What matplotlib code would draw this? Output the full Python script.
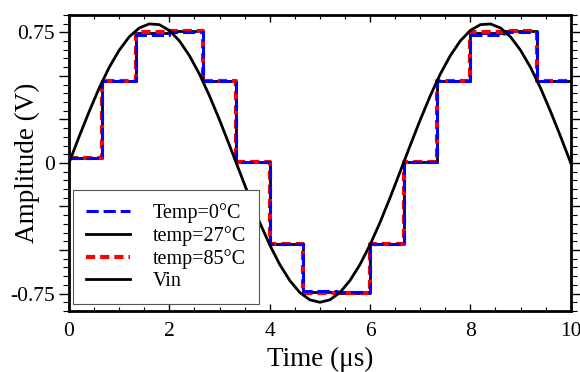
import numpy as np
import matplotlib
matplotlib.use("Agg")
import matplotlib.pyplot as plt
import matplotlib.ticker as ticker

plt.rcParams['font.family'] = ['Liberation Serif', 'DejaVu Serif']
plt.rcParams['mathtext.fontset'] = 'stix'

# Vin every 0.2 us
t_vin = [0.0, 0.2, 0.4, 0.6, 0.8, 1.0, 1.2, 1.4, 1.6, 1.8,
         2.0, 2.2, 2.4, 2.6, 2.8, 3.0, 3.2, 3.4, 3.6, 3.8,
         4.0, 4.2, 4.4, 4.6, 4.8, 5.0, 5.2, 5.4, 5.6, 5.8,
         6.0, 6.2, 6.4, 6.6, 6.8, 7.0, 7.2, 7.4, 7.6, 7.8,
         8.0, 8.2, 8.4, 8.6, 8.8, 9.0, 9.2, 9.4, 9.6, 9.8, 10.0]
vin = [0.0, 0.150, 0.294, 0.429, 0.548, 0.647, 0.724, 0.775, 0.798, 0.794,
       0.761, 0.701, 0.616, 0.510, 0.385, 0.247, 0.100, -0.050, -0.199, -0.341,
       -0.470, -0.583, -0.675, -0.744, -0.786, -0.800, -0.786, -0.744, -0.675, -0.583,
       -0.470, -0.341, -0.199, -0.050, 0.100, 0.247, 0.385, 0.510, 0.616, 0.701,
       0.761, 0.794, 0.798, 0.775, 0.724, 0.647, 0.548, 0.429, 0.294, 0.150, 0.0]

# sample-and-hold step edges (us) and held levels (V)
edges = [0, 0.667, 1.333, 2.0, 2.667, 3.333, 4.0, 4.667, 5.333, 6.0,
         6.667, 7.333, 8.0, 8.667, 9.333, 10.0]
temp0 = [0.03, 0.47, 0.735, 0.75, 0.47, 0.005, -0.465, -0.735, -0.74, -0.465,
         0.005, 0.47, 0.735, 0.75, 0.47]
temp27 = [0.03, 0.47, 0.745, 0.755, 0.47, 0.005, -0.465, -0.74, -0.745, -0.465,
          0.005, 0.47, 0.745, 0.755, 0.47]
temp85 = [0.03, 0.47, 0.75, 0.755, 0.47, 0.005, -0.465, -0.745, -0.745, -0.465,
          0.005, 0.47, 0.75, 0.755, 0.47]

def stairs(levels):
    x, y = [], []
    for i, v in enumerate(levels):
        x += [edges[i], edges[i+1]]
        y += [v, v]
    return x, y

fig = plt.figure(figsize=(5.8, 3.72), dpi=100)
ax = fig.add_axes([0.119, 0.164, 0.865, 0.796])

x27, y27 = stairs(temp27)
x85, y85 = stairs(temp85)
x0, y0 = stairs(temp0)
ax.plot(x27, y27, color='black', lw=2, label='temp=27°C', zorder=2)
ax.plot(x85, y85, color='red', lw=3, ls=(0, (2.2, 1.2)), label='temp=85°C', zorder=3)
ax.plot(x0, y0, color='blue', lw=2.2, ls=(0, (4, 1.6)), label='Temp=0°C', zorder=4)
ax.plot(t_vin, vin, color='black', lw=2, label='Vin', zorder=5)

ax.set_xlim(0, 10)
ax.set_ylim(-0.85, 0.85)
ax.set_xlabel('Time (μs)', fontsize=19.5, va='top')
ax.set_ylabel('Amplitude (V)', fontsize=19.5, va='center')
ax.xaxis.set_label_coords(0.5, -0.122)
ax.yaxis.set_label_coords(-0.082, 0.5)

ax.xaxis.set_major_locator(ticker.MultipleLocator(2))
ax.xaxis.set_minor_locator(ticker.MultipleLocator(0.5))
ax.yaxis.set_major_locator(ticker.FixedLocator([-0.75, -0.5, -0.25, 0, 0.25, 0.5, 0.75]))
ax.yaxis.set_minor_locator(ticker.MultipleLocator(0.05))
ax.yaxis.set_major_formatter(ticker.FuncFormatter(
    lambda v, p: {-0.75: '-0.75', 0: '0', 0.75: '0.75'}.get(round(v, 2), '')))

ax.tick_params(axis='x', which='both', direction='in', top=True, labelsize=15.5, pad=8)
ax.tick_params(axis='x', which='major', length=5, width=1)
ax.tick_params(axis='x', which='minor', length=3, width=0.8)
ax.tick_params(axis='y', which='both', direction='out', right=True, labelsize=15.5, pad=3)
ax.tick_params(axis='y', which='major', length=7, width=1)
ax.tick_params(axis='y', which='minor', length=4, width=0.8)
for s in ax.spines.values():
    s.set_linewidth(2)

h, l = ax.get_legend_handles_labels()
order = [2, 0, 1, 3]
leg = ax.legend([h[i] for i in order], [l[i] for i in order], loc='lower left',
                bbox_to_anchor=(0.008, 0.024), fontsize=14.5, fancybox=False,
                edgecolor='#555555', framealpha=1, handlelength=2.2,
                handletextpad=1.1, borderpad=0.65, labelspacing=0.14, borderaxespad=0)
leg.get_frame().set_linewidth(0.8)

fig.savefig('out.png', dpi=100)
